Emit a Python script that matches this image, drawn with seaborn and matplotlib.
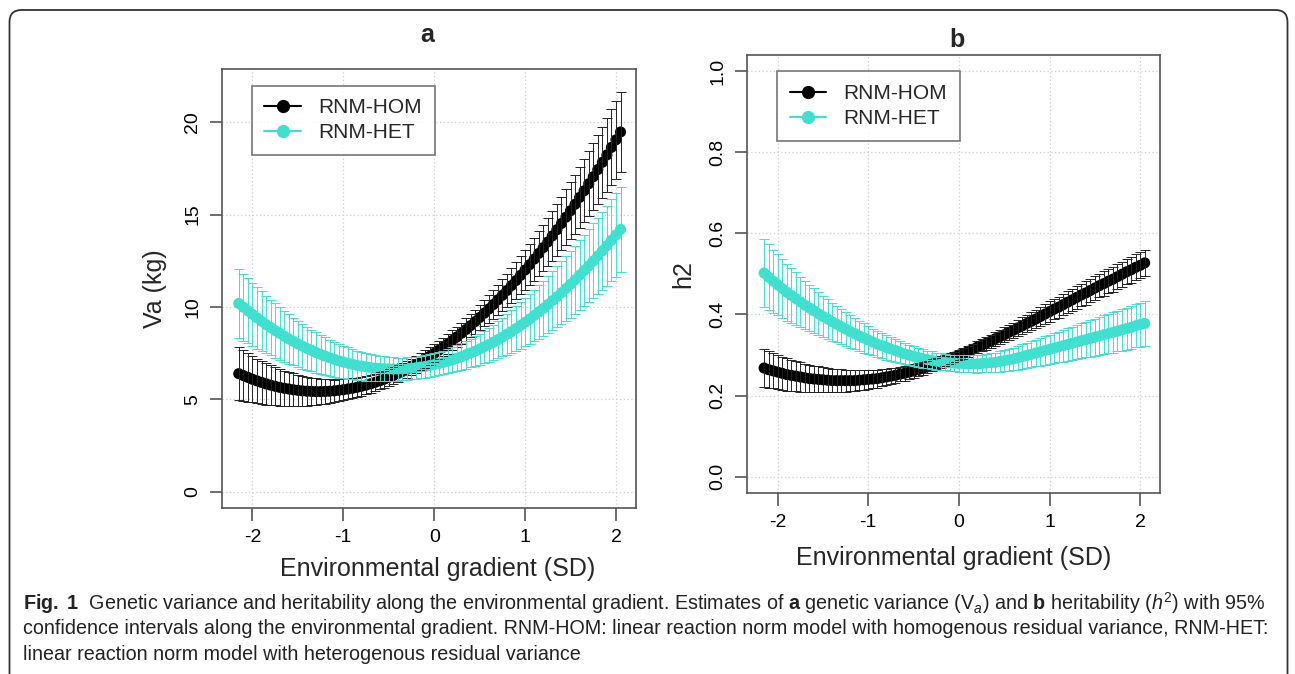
import matplotlib
matplotlib.use("Agg")
import matplotlib.pyplot as plt
import pandas as pd
import seaborn as sns
from matplotlib.lines import Line2D
from matplotlib.patches import FancyBboxPatch
from matplotlib.transforms import IdentityTransform

# environmental gradient (SD) and estimates
gradient = [-2.15, -2.10, -2.05, -2.00, -1.95, -1.90, -1.85, -1.80, -1.75, -1.70,
            -1.65, -1.60, -1.55, -1.50, -1.45, -1.40, -1.35, -1.30, -1.25, -1.20,
            -1.15, -1.10, -1.05, -1.00, -0.95, -0.90, -0.85, -0.80, -0.75, -0.70,
            -0.65, -0.60, -0.55, -0.50, -0.45, -0.40, -0.35, -0.30, -0.25, -0.20,
            -0.15, -0.10, -0.05, 0.00, 0.05, 0.10, 0.15, 0.20, 0.25, 0.30,
            0.35, 0.40, 0.45, 0.50, 0.55, 0.60, 0.65, 0.70, 0.75, 0.80,
            0.85, 0.90, 0.95, 1.00, 1.05, 1.10, 1.15, 1.20, 1.25, 1.30,
            1.35, 1.40, 1.45, 1.50, 1.55, 1.60, 1.65, 1.70, 1.75, 1.80,
            1.85, 1.90, 1.95, 2.00, 2.05]

# panel a: genetic variance and half width of the 95% CI
hom_va = [6.39, 6.29, 6.19, 6.09, 6.00, 5.92, 5.84, 5.77, 5.71, 5.65,
          5.60, 5.56, 5.52, 5.49, 5.46, 5.44, 5.43, 5.42, 5.42, 5.43,
          5.44, 5.46, 5.49, 5.52, 5.56, 5.60, 5.65, 5.71, 5.77, 5.84,
          5.92, 6.00, 6.09, 6.19, 6.29, 6.40, 6.51, 6.63, 6.76, 6.89,
          7.03, 7.18, 7.33, 7.49, 7.66, 7.83, 8.00, 8.19, 8.38, 8.58,
          8.78, 8.99, 9.21, 9.43, 9.66, 9.89, 10.13, 10.38, 10.63, 10.89,
          11.16, 11.43, 11.71, 12.00, 12.29, 12.59, 12.90, 13.21, 13.52, 13.85,
          14.18, 14.52, 14.86, 15.21, 15.56, 15.93, 16.29, 16.67, 17.05, 17.44,
          17.83, 18.23, 18.64, 19.05, 19.47]
hom_va_ci = [1.42, 1.36, 1.31, 1.26, 1.21, 1.16, 1.12, 1.07, 1.03, 0.99,
             0.95, 0.91, 0.88, 0.84, 0.81, 0.78, 0.75, 0.72, 0.69, 0.66,
             0.64, 0.61, 0.59, 0.57, 0.55, 0.53, 0.52, 0.51, 0.50, 0.48,
             0.47, 0.46, 0.46, 0.45, 0.45, 0.45, 0.45, 0.45, 0.45, 0.45,
             0.46, 0.47, 0.48, 0.49, 0.50, 0.51, 0.53, 0.54, 0.56, 0.58,
             0.60, 0.62, 0.65, 0.68, 0.71, 0.74, 0.78, 0.82, 0.86, 0.90,
             0.94, 0.98, 1.03, 1.07, 1.12, 1.16, 1.21, 1.25, 1.30, 1.35,
             1.40, 1.45, 1.50, 1.55, 1.60, 1.65, 1.70, 1.75, 1.80, 1.86,
             1.92, 1.98, 2.05, 2.12, 2.19]
het_va = [10.19, 9.99, 9.79, 9.60, 9.41, 9.23, 9.05, 8.89, 8.72, 8.57,
          8.42, 8.27, 8.14, 8.00, 7.88, 7.76, 7.65, 7.54, 7.44, 7.34,
          7.25, 7.17, 7.09, 7.02, 6.96, 6.90, 6.84, 6.80, 6.76, 6.72,
          6.69, 6.67, 6.66, 6.65, 6.64, 6.64, 6.65, 6.67, 6.69, 6.71,
          6.75, 6.78, 6.83, 6.88, 6.94, 7.00, 7.07, 7.14, 7.23, 7.31,
          7.41, 7.51, 7.61, 7.72, 7.84, 7.96, 8.09, 8.23, 8.37, 8.52,
          8.67, 8.83, 9.00, 9.17, 9.35, 9.54, 9.73, 9.92, 10.13, 10.34,
          10.55, 10.77, 11.00, 11.23, 11.47, 11.72, 11.97, 12.23, 12.49, 12.76,
          13.04, 13.32, 13.61, 13.90, 14.20]
het_va_ci = [1.87, 1.81, 1.76, 1.71, 1.66, 1.61, 1.56, 1.51, 1.47, 1.42,
             1.38, 1.33, 1.29, 1.25, 1.21, 1.17, 1.13, 1.09, 1.05, 1.01,
             0.98, 0.94, 0.91, 0.88, 0.85, 0.82, 0.79, 0.76, 0.74, 0.72,
             0.70, 0.68, 0.66, 0.64, 0.63, 0.62, 0.61, 0.60, 0.60, 0.60,
             0.60, 0.60, 0.61, 0.62, 0.63, 0.64, 0.66, 0.68, 0.70, 0.72,
             0.75, 0.78, 0.81, 0.84, 0.88, 0.92, 0.96, 1.00, 1.05, 1.10,
             1.15, 1.20, 1.25, 1.30, 1.35, 1.40, 1.45, 1.50, 1.55, 1.60,
             1.65, 1.70, 1.75, 1.80, 1.85, 1.90, 1.94, 1.98, 2.03, 2.08,
             2.12, 2.17, 2.21, 2.26, 2.30]

# panel b: heritability and half width of the 95% CI
hom_h2 = [0.268, 0.264, 0.261, 0.258, 0.255, 0.252, 0.250, 0.248, 0.246, 0.244,
          0.242, 0.241, 0.240, 0.239, 0.238, 0.237, 0.237, 0.237, 0.237, 0.237,
          0.237, 0.238, 0.239, 0.240, 0.241, 0.242, 0.244, 0.246, 0.248, 0.250,
          0.253, 0.255, 0.258, 0.261, 0.264, 0.267, 0.271, 0.275, 0.279, 0.283,
          0.287, 0.291, 0.295, 0.300, 0.304, 0.309, 0.314, 0.319, 0.324, 0.329,
          0.334, 0.340, 0.345, 0.350, 0.356, 0.361, 0.367, 0.372, 0.378, 0.383,
          0.389, 0.395, 0.401, 0.407, 0.413, 0.418, 0.424, 0.430, 0.436, 0.442,
          0.448, 0.453, 0.459, 0.465, 0.471, 0.476, 0.482, 0.487, 0.493, 0.499,
          0.505, 0.510, 0.516, 0.521, 0.527]
hom_h2_ci = [0.046, 0.045, 0.043, 0.042, 0.041, 0.040, 0.038, 0.037, 0.036, 0.035,
             0.034, 0.033, 0.032, 0.031, 0.030, 0.029, 0.028, 0.028, 0.027, 0.026,
             0.025, 0.025, 0.024, 0.023, 0.022, 0.022, 0.021, 0.020, 0.019, 0.019,
             0.018, 0.018, 0.017, 0.017, 0.016, 0.016, 0.015, 0.015, 0.014, 0.014,
             0.013, 0.013, 0.013, 0.013, 0.013, 0.014, 0.014, 0.015, 0.015, 0.016,
             0.016, 0.017, 0.017, 0.018, 0.018, 0.019, 0.020, 0.021, 0.021, 0.022,
             0.022, 0.023, 0.024, 0.025, 0.025, 0.026, 0.026, 0.027, 0.027, 0.028,
             0.028, 0.029, 0.029, 0.029, 0.029, 0.030, 0.030, 0.031, 0.031, 0.031,
             0.031, 0.032, 0.032, 0.032, 0.032]
het_h2 = [0.502, 0.492, 0.482, 0.473, 0.464, 0.455, 0.447, 0.439, 0.431, 0.423,
          0.416, 0.409, 0.402, 0.395, 0.389, 0.382, 0.376, 0.370, 0.364, 0.358,
          0.353, 0.347, 0.342, 0.337, 0.332, 0.327, 0.323, 0.319, 0.315, 0.311,
          0.307, 0.303, 0.300, 0.297, 0.294, 0.291, 0.289, 0.287, 0.285, 0.283,
          0.282, 0.281, 0.280, 0.279, 0.279, 0.278, 0.278, 0.278, 0.279, 0.280,
          0.281, 0.282, 0.284, 0.286, 0.288, 0.290, 0.293, 0.296, 0.299, 0.302,
          0.305, 0.308, 0.311, 0.314, 0.317, 0.320, 0.323, 0.326, 0.329, 0.332,
          0.335, 0.338, 0.341, 0.344, 0.347, 0.350, 0.353, 0.356, 0.359, 0.362,
          0.365, 0.368, 0.372, 0.375, 0.378]
het_h2_ci = [0.084, 0.081, 0.078, 0.075, 0.072, 0.070, 0.067, 0.065, 0.062, 0.060,
             0.057, 0.055, 0.053, 0.051, 0.049, 0.047, 0.045, 0.044, 0.042, 0.041,
             0.039, 0.038, 0.036, 0.035, 0.033, 0.032, 0.031, 0.030, 0.029, 0.028,
             0.027, 0.026, 0.025, 0.025, 0.024, 0.023, 0.022, 0.022, 0.021, 0.021,
             0.020, 0.020, 0.020, 0.020, 0.020, 0.021, 0.021, 0.022, 0.022, 0.023,
             0.023, 0.024, 0.025, 0.026, 0.027, 0.028, 0.029, 0.030, 0.031, 0.032,
             0.033, 0.034, 0.035, 0.036, 0.037, 0.038, 0.039, 0.040, 0.041, 0.042,
             0.043, 0.044, 0.045, 0.046, 0.047, 0.048, 0.049, 0.050, 0.050, 0.051,
             0.052, 0.053, 0.053, 0.054, 0.055]

models = ["RNM-HOM", "RNM-HET"]
palette = {"RNM-HOM": "black", "RNM-HET": "#40E0D0"}
bar_colors = {"RNM-HOM": "#222222", "RNM-HET": "#40E0D0"}

sns.set_theme(style="ticks")
plt.rcParams["font.family"] = ["Liberation Sans", "DejaVu Sans"]
plt.rcParams["mathtext.fontset"] = "custom"
plt.rcParams["mathtext.rm"] = "Liberation Sans"
plt.rcParams["mathtext.it"] = "Liberation Sans:italic"
plt.rcParams["mathtext.bf"] = "Liberation Sans:bold"

AX_GRAY = "#555555"


def draw_panel(ax, hom, hom_ci, het, het_ci, ylim, yticks, ylabel, ylab_x, xlab_x, xlab_y):
    df = pd.DataFrame({
        "gradient": gradient * 2,
        "value": hom + het,
        "model": [models[0]] * len(gradient) + [models[1]] * len(gradient),
    })
    sns.scatterplot(data=df, x="gradient", y="value", hue="model", palette=palette,
                    s=64, linewidth=0, legend=False, ax=ax, zorder=3)
    for name, vals, ci in [(models[0], hom, hom_ci), (models[1], het, het_ci)]:
        ax.errorbar(gradient, vals, yerr=ci, fmt="none", ecolor=bar_colors[name],
                    elinewidth=0.7, capsize=3.6, capthick=0.7, zorder=4)

    ax.set_xlim(-2.335, 2.22)
    ax.set_ylim(*ylim)
    ax.set_xticks([-2, -1, 0, 1, 2])
    ax.set_xticklabels(["-2", "-1", "0", "1", "2"])
    ax.set_yticks(yticks)
    ax.grid(True, linestyle=(0, (1, 2)), color="#cfcfcf", linewidth=0.9, zorder=0)
    ax.set_axisbelow(True)
    for sp in ax.spines.values():
        sp.set_visible(True)
        sp.set_color(AX_GRAY)
        sp.set_linewidth(1.2)
    ax.tick_params(axis="both", length=9, width=1.2, color=AX_GRAY,
                   labelsize=14, labelcolor="black", pad=6, direction="out")

    ax.set_xlabel("Environmental gradient (SD)", fontsize=18)
    ax.set_ylabel(ylabel, fontsize=18)
    ax.xaxis.set_label_coords(xlab_x, xlab_y)
    ax.yaxis.set_label_coords(ylab_x, 0.5)

    handles = [Line2D([], [], color=palette[m], marker="o", markersize=8.5, lw=1.5)
               for m in models]
    leg = ax.legend(handles, models, loc="upper left", bbox_to_anchor=(0.072, 0.962),
                    frameon=True, fancybox=False, fontsize=15, handlelength=1.75,
                    handletextpad=0.85, borderpad=0.6, labelspacing=0.3,
                    borderaxespad=0)
    leg.get_frame().set_edgecolor(AX_GRAY)
    leg.get_frame().set_linewidth(1.2)
    leg.set_zorder(6)


fig = plt.figure(figsize=(12.95, 6.74), dpi=100)
ax_a = fig.add_axes([0.1714, 0.2463, 0.3197, 0.6513])
ax_b = fig.add_axes([0.5771, 0.2685, 0.3187, 0.6503])

draw_panel(ax_a, hom_va, hom_va_ci, het_va, het_va_ci, (-0.88, 22.88),
           [0, 5, 10, 15, 20], "Va (kg)", -0.133, 0.522, -0.112)
draw_panel(ax_b, hom_h2, hom_h2_ci, het_h2, het_h2_ci, (-0.04, 1.04),
           [0.0, 0.2, 0.4, 0.6, 0.8, 1.0], "h2", -0.127, 0.5, -0.121)
ax_b.set_yticklabels(["0.0", "0.2", "0.4", "0.6", "0.8", "1.0"])
for ax in (ax_a, ax_b):
    for lab in ax.get_yticklabels():
        lab.set_rotation(90)
        lab.set_verticalalignment("center")

fig.text(427 / 1295, 1 - 35 / 674, "a", ha="center", va="center",
         fontsize=18, fontweight="bold")
fig.text(957 / 1295, 1 - 40 / 674, "b", ha="center", va="center",
         fontsize=18, fontweight="bold")

# rounded frame around the figure, open at the bottom
frame = FancyBboxPatch((9.5, -60), 1278, 664 + 60, boxstyle="round,pad=0,rounding_size=12",
                       transform=IdentityTransform(), fill=False, edgecolor="#333333",
                       linewidth=1.3)
fig.add_artist(frame)

caption = [
    r"$\mathbf{Fig.\ 1}$  Genetic variance and heritability along the environmental gradient. "
    r"Estimates of $\mathbf{a}$ genetic variance (V$_a$) and $\mathbf{b}$ heritability "
    r"($h^2$) with 95%",
    "confidence intervals along the environmental gradient. RNM-HOM: linear reaction norm "
    "model with homogenous residual variance, RNM-HET:",
    "linear reaction norm model with heterogenous residual variance",
]
for i, line in enumerate(caption):
    fig.text(23 / 1295, 1 - (603 + 26 * i) / 674, line, ha="left", va="center",
             fontsize=14.2, color="#222222")

fig.savefig("out.png", dpi=100)
